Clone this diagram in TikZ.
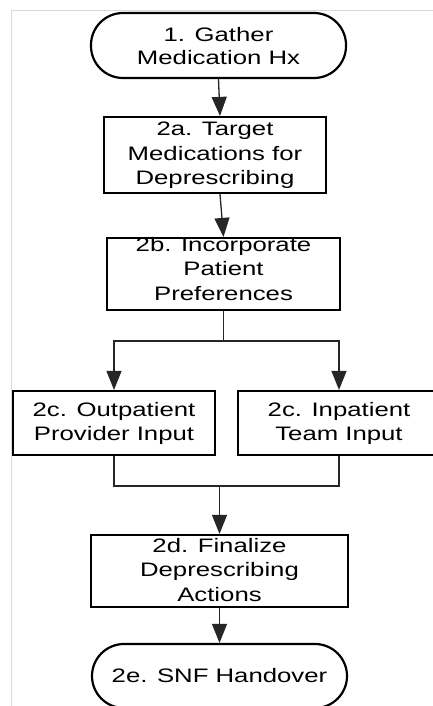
\documentclass[tikz,border=0pt]{standalone}
\usepackage{fontspec}
\newfontfamily\lblfont[FakeStretch=1.32]{Liberation Sans}
\usetikzlibrary{arrows.meta,calc}
\begin{document}
\begin{tikzpicture}[x=1pt,y=-1pt,
  shapebox/.style={draw=black, line width=2.2pt, fill=white, inner sep=0pt},
  procbox/.style={shapebox, rectangle},
  termbox/.style={shapebox, rectangle, rounded corners=32pt},
  lbl/.style={inner sep=0pt, align=center, font=\lblfont\fontsize{19.5}{24.5}\selectfont},
  conn/.style={draw=black!85, line width=1.3pt},
  arr/.style={conn, -{Triangle[length=19pt,width=15pt]}}
]
\useasboundingbox (0,0) rectangle (433,706);
\fill[white] (0,0) rectangle (433,706);
\draw[black!15, line width=1pt] (11,706) -- (11,11) -- (433,11);

% shapes
\node[termbox, minimum width=255pt, minimum height=65pt] (n1) at (218.5,45.5) {};
\node[procbox, minimum width=222pt, minimum height=76pt] (n2a) at (215,155) {};
\node[procbox, minimum width=233pt, minimum height=72pt] (n2b) at (223.5,274) {};
\node[procbox, minimum width=202pt, minimum height=64pt] (n2cL) at (114,423) {};
\node[procbox, minimum width=202pt, minimum height=64pt] (n2cR) at (339,423) {};
\node[procbox, minimum width=257pt, minimum height=72pt] (n2d) at (219.5,571) {};
\node[termbox, minimum width=255pt, minimum height=64pt] (n2e) at (219.5,676) {};

% texts
\node[lbl, font=\lblfont\fontsize{19.5}{23.5}\selectfont] (t1) at (218.5,46.2) {1. Gather\\Medication Hx};
\node[lbl] (t2a) at (215,155.5) {2a. Target\\Medications for\\Deprescribing};
\node[lbl] (t2b) at (223.5,268.9) {2b. Incorporate\\Patient\\Preferences};
\node[lbl] (t2cL) at (114,423.3) {2c. Outpatient\\Provider Input};
\node[lbl] (t2cR) at (339,423.3) {2c. Inpatient\\Team Input};
\node[lbl] (t2d) at (219.5,569.9) {2d. Finalize\\Deprescribing\\Actions};
\node[lbl] (t2e) at (219.5,675.9) {2e. SNF Handover};

% connectors
\draw[arr] (n1.south) -- ([xshift=5pt]n2a.north);
\draw[arr] ([xshift=5pt]n2a.south) -- (n2b.north);
\draw[conn] (n2b.south) -- ++(0,30) coordinate (br);
\draw[arr] (br) -| (n2cL.north);
\draw[arr] (br) -| (n2cR.north);
\coordinate (mg) at ($(n2d.north)+(0,-48)$);
\draw[conn] (n2cL.south) |- (mg);
\draw[conn] (n2cR.south) |- (mg);
\draw[arr] (mg) -- (n2d.north);
\draw[arr] (n2d.south) -- (n2e.north);
\end{tikzpicture}
\end{document}
